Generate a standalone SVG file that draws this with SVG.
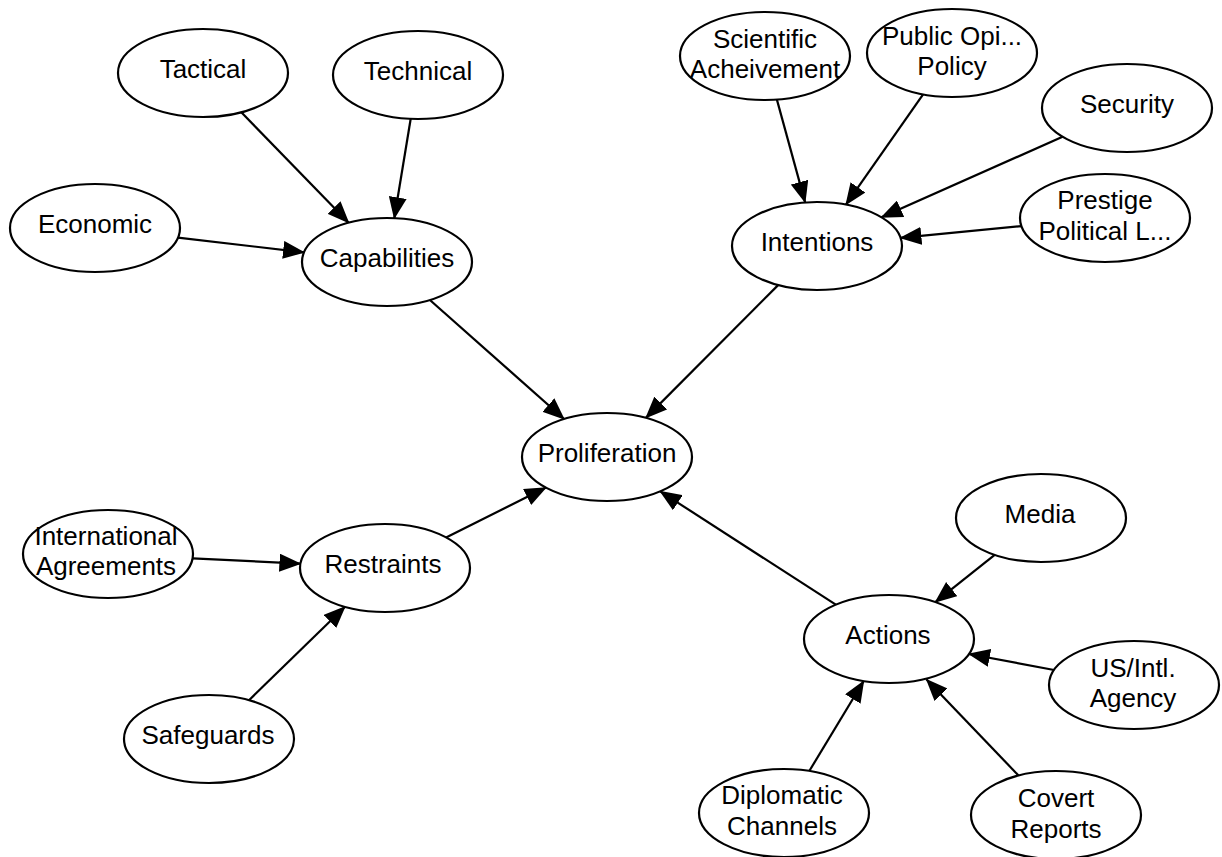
<svg xmlns="http://www.w3.org/2000/svg" width="1222" height="857" viewBox="0 0 1222 857">
  <style>
    .node ellipse { fill: #ffffff; stroke: #000000; stroke-width: 2.2; }
    .node text { font-family: "Liberation Sans", Arial, sans-serif; font-size: 26px; fill: #000000; text-anchor: middle; }
    .edges line { stroke: #000000; stroke-width: 2.2; marker-end: url(#arrow); }
  </style>
  <defs>
    <marker id="arrow" markerUnits="userSpaceOnUse" markerWidth="22" markerHeight="18" viewBox="0 0 22 18" refX="21" refY="9" orient="auto">
      <path d="M0,0 L22,9 L0,18 z" fill="#000000"/>
    </marker>
  </defs>
  <rect x="0" y="0" width="1222" height="857" fill="#ffffff"/>

  <!-- connectors: each runs centre to centre, clipped at both ellipse rims -->
  <g id="edges" class="edges">
    <line x1="241.3" y1="112.3" x2="348.7" y2="222.7"/>
    <line x1="410.7" y1="118.8" x2="394.3" y2="218.2"/>
    <line x1="177.9" y1="237.7" x2="304.1" y2="252.3"/>
    <line x1="429.9" y1="300" x2="564.1" y2="419"/>
    <line x1="778.1" y1="285.1" x2="645.9" y2="417.9"/>
    <line x1="776.9" y1="99.6" x2="805.1" y2="202.4"/>
    <line x1="923.1" y1="94.4" x2="845.9" y2="204.6"/>
    <line x1="1062.6" y1="136.7" x2="881.4" y2="217.3"/>
    <line x1="1021.4" y1="226.1" x2="900.4" y2="237.9"/>
    <line x1="192.6" y1="558.3" x2="300.4" y2="563.7"/>
    <line x1="249" y1="700.2" x2="345" y2="606.8"/>
    <line x1="446.1" y1="537.4" x2="545.9" y2="487.6"/>
    <line x1="835.8" y1="604.7" x2="660.2" y2="491.3"/>
    <line x1="994.7" y1="554.9" x2="935.3" y2="602.1"/>
    <line x1="1054.1" y1="670" x2="968.9" y2="654"/>
    <line x1="809.3" y1="771" x2="863.7" y2="681"/>
    <line x1="1018.5" y1="775.5" x2="926.5" y2="679.5"/>
  </g>

  <g id="tactical" class="node">
    <ellipse cx="203" cy="73" rx="85" ry="44"/>
    <text x="203" y="78">Tactical</text>
  </g>
  <g id="technical" class="node">
    <ellipse cx="418" cy="75" rx="85" ry="44"/>
    <text x="418" y="80">Technical</text>
  </g>
  <g id="economic" class="node">
    <ellipse cx="95" cy="228" rx="85" ry="44"/>
    <text x="95" y="233">Economic</text>
  </g>
  <g id="capabilities" class="node">
    <ellipse cx="387" cy="262" rx="85" ry="44"/>
    <text x="387" y="267">Capabilities</text>
  </g>
  <g id="scientific-acheivement" class="node">
    <ellipse cx="765" cy="56" rx="85" ry="44"/>
    <text x="765" y="48">Scientific</text>
    <text x="765" y="78">Acheivement</text>
  </g>
  <g id="public-opinion-policy" class="node">
    <ellipse cx="952" cy="53" rx="85" ry="44"/>
    <text x="952" y="45">Public Opi...</text>
    <text x="952" y="75">Policy</text>
  </g>
  <g id="security" class="node">
    <ellipse cx="1127" cy="108" rx="85" ry="44"/>
    <text x="1127" y="113">Security</text>
  </g>
  <g id="prestige-political" class="node">
    <ellipse cx="1105" cy="218" rx="85" ry="44"/>
    <text x="1105" y="209">Prestige</text>
    <text x="1105" y="240">Political L...</text>
  </g>
  <g id="intentions" class="node">
    <ellipse cx="817" cy="246" rx="85" ry="44"/>
    <text x="817" y="251">Intentions</text>
  </g>
  <g id="proliferation" class="node">
    <ellipse cx="607" cy="457" rx="85" ry="44"/>
    <text x="607" y="462">Proliferation</text>
  </g>
  <g id="international-agreements" class="node">
    <ellipse cx="108" cy="554" rx="85" ry="44"/>
    <text x="106" y="545">International</text>
    <text x="106" y="575">Agreements</text>
  </g>
  <g id="restraints" class="node">
    <ellipse cx="385" cy="568" rx="85" ry="44"/>
    <text x="383" y="573">Restraints</text>
  </g>
  <g id="safeguards" class="node">
    <ellipse cx="209" cy="739" rx="85" ry="44"/>
    <text x="208" y="744">Safeguards</text>
  </g>
  <g id="media" class="node">
    <ellipse cx="1041" cy="518" rx="85" ry="44"/>
    <text x="1040" y="523">Media</text>
  </g>
  <g id="actions" class="node">
    <ellipse cx="889" cy="639" rx="85" ry="44"/>
    <text x="888" y="644">Actions</text>
  </g>
  <g id="us-intl-agency" class="node">
    <ellipse cx="1134" cy="685" rx="85" ry="44"/>
    <text x="1133" y="677">US/Intl.</text>
    <text x="1133" y="707">Agency</text>
  </g>
  <g id="diplomatic-channels" class="node">
    <ellipse cx="784" cy="813" rx="85" ry="44"/>
    <text x="782" y="804">Diplomatic</text>
    <text x="782" y="835">Channels</text>
  </g>
  <g id="covert-reports" class="node">
    <ellipse cx="1056" cy="815" rx="85" ry="44"/>
    <text x="1056" y="807">Covert</text>
    <text x="1056" y="838">Reports</text>
  </g>
</svg>
